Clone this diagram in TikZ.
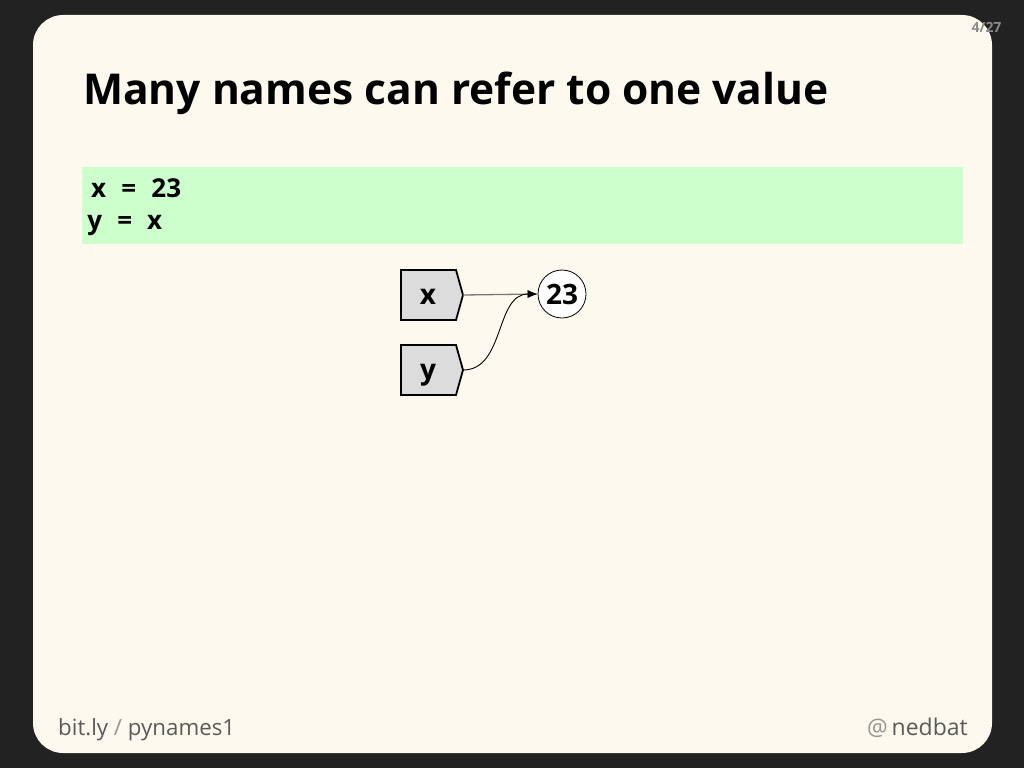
\documentclass[tikz,border=0pt]{standalone}
\usepackage{fontspec}
\setmainfont{Open Sans}
\usetikzlibrary{arrows.meta}
\definecolor{bgdark}{RGB}{34,34,34}
\definecolor{slide}{RGB}{253,249,238}
\definecolor{codegreen}{RGB}{204,255,204}
\definecolor{namegray}{RGB}{220,220,220}
\definecolor{footgray}{RGB}{90,90,90}
\definecolor{footlight}{RGB}{150,150,150}
\definecolor{pagegray}{RGB}{140,140,140}
\definecolor{linegray}{RGB}{120,120,120}
\newcommand\mch[1]{\makebox[15pt][c]{#1}}
\tikzset{
  namebox/.style={draw=black, line width=1.8pt, fill=namegray},
  nametext/.style={font=\fontsize{28}{32}\selectfont\bfseries, text=black, anchor=base, inner sep=0pt},
  valcircle/.style={circle, draw=black, line width=0.8pt, fill=white, minimum size=48pt, inner sep=0pt, font=\fontsize{28}{32}\selectfont\bfseries},
  ref/.style={line width=0.9pt, -{Latex[length=10pt,width=8pt]}},
  codetext/.style={font=\fontsize{26}{30}\selectfont\bfseries, anchor=base west, inner sep=0pt}
}
\begin{document}
\begin{tikzpicture}[x=1pt,y=-1pt]
\useasboundingbox (0,0) rectangle (1024,768);
\fill[bgdark] (0,0) rectangle (1024,768);
\fill[slide, rounded corners=30pt] (33,15) rectangle (992,753);
% page number
\node[font=\fontsize{14}{16}\selectfont\bfseries, text=pagegray, anchor=base east] (page) at (1005,33) {4/27};
% title
\node[font=\fontsize{42.5}{48}\selectfont\bfseries, anchor=base west, inner sep=0pt] (title) at (83,104) {Many names can refer to one value};
% code block
\fill[codegreen] (82,167) rectangle (963,244);
\node[codetext] (code1) at (91,197) {\mch{x}\mch{}\mch{=}\mch{}\mch{2}\mch{3}};
\node[codetext] (code2) at (87,229) {\mch{y}\mch{}\mch{=}\mch{}\mch{x}};
% name boxes
\draw[namebox] (401,270) -- (456,270) -- (463,295) -- (456,320) -- (401,320) -- cycle;
\coordinate (xtip) at (463,295);
\node[nametext] (xname) at (428,304) {x};
\draw[namebox] (401,345) -- (456,345) -- (463,370) -- (456,395) -- (401,395) -- cycle;
\coordinate (ytip) at (463,370);
\node[nametext] (yname) at (428,379) {y};
% value
\node[valcircle] (val) at (562,294) {23};
% references
\draw[ref, draw=linegray, line width=1.3pt] (xtip) -- (val.west);
\draw[ref, draw=black] (ytip) .. controls (505,370) and (495,294) .. (val.west);
% footer
\node[font=\fontsize{22.3}{26}\selectfont, anchor=base west, inner sep=0pt, text=footgray] (bitly) at (58,735) {bit.ly \textcolor{footlight}{/} pynames1};
\node[font=\fontsize{23}{26}\selectfont, anchor=base east, inner sep=0pt, text=footgray] (nedbat) at (968,735) {\textcolor{footlight}{@}\,nedbat};
\end{tikzpicture}
\end{document}
